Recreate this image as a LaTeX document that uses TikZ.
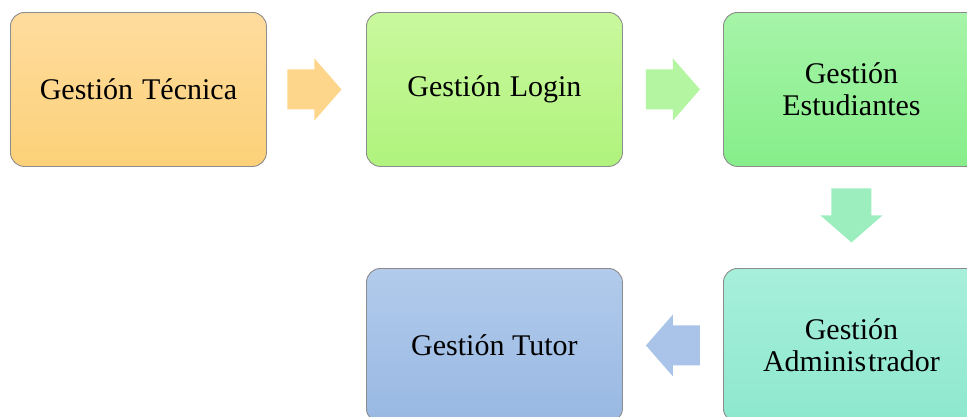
\documentclass[tikz,border=0pt]{standalone}
\usepackage{fontspec}
\setmainfont{Liberation Serif}
\usetikzlibrary{calc}

\definecolor{tecTop}{HTML}{FEDC9E}\definecolor{tecBot}{HTML}{FDD179}
\definecolor{logTop}{HTML}{C9F89D}\definecolor{logBot}{HTML}{B0F37D}
\definecolor{estTop}{HTML}{A6F4A8}\definecolor{estBot}{HTML}{86EE8A}
\definecolor{admTop}{HTML}{A7EFDA}\definecolor{admBot}{HTML}{8DE8CD}
\definecolor{tutTop}{HTML}{B2CBEB}\definecolor{tutBot}{HTML}{98B8E3}
\definecolor{frame}{HTML}{8C8C8C}
\definecolor{arrOne}{HTML}{FDD68C}
\definecolor{arrTwo}{HTML}{B3F5A0}
\definecolor{arrThree}{HTML}{9CEEBE}
\definecolor{arrFour}{HTML}{A9C4E8}

\tikzset{
  stage/.style={rectangle, rounded corners=14pt, draw=frame, line width=0.9pt,
    minimum width=256pt, minimum height=154pt, anchor=north west,
    align=center, inner sep=0pt, text=black,
    font=\fontsize{30}{32}\selectfont},
}

% block arrow pointing along +x, centred on the current origin
\newcommand\blockarrowpath{(-27,-20) -- (0,-20) -- (0,-31) -- (27,0) -- (0,31) -- (0,20) -- (-27,20) -- cycle}

\begin{document}
\begin{tikzpicture}[x=1pt,y=-1pt]
\useasboundingbox (0,0) rectangle (967,416);

\node[stage, top color=tecTop, bottom color=tecBot] (tec) at (10,12) {Gestión\hspace{0.3em}Técnica};
\node[stage, top color=logTop, bottom color=logBot] (log) at (366,12) {Gestión\hspace{0.3em}Login};
\node[stage, top color=estTop, bottom color=estBot] (est) at (723,12) {Gestión\\Estudiantes};
\node[stage, top color=admTop, bottom color=admBot] (adm) at (723,268) {Gestión\\Adminis\hspace{0.06em}trador};
\node[stage, top color=tutTop, bottom color=tutBot] (tut) at (366,268) {Gestión\hspace{0.25em}Tutor};

\coordinate (a1) at ($(tec.east)!0.48!(log.west)$);
\coordinate (a2) at ($(log.east)!0.5!(est.west)$);
\coordinate (a3) at ($(est.south)!0.48!(adm.north)$);
\coordinate (a4) at ($(adm.west)!0.5!(tut.east)$);

\fill[arrOne, shift={(a1)}] \blockarrowpath;
\fill[arrTwo, shift={(a2)}] \blockarrowpath;
\fill[arrThree, shift={(a3)}, rotate=-90] \blockarrowpath;
\fill[arrFour, shift={(a4)}, rotate=180] \blockarrowpath;
\end{tikzpicture}
\end{document}
